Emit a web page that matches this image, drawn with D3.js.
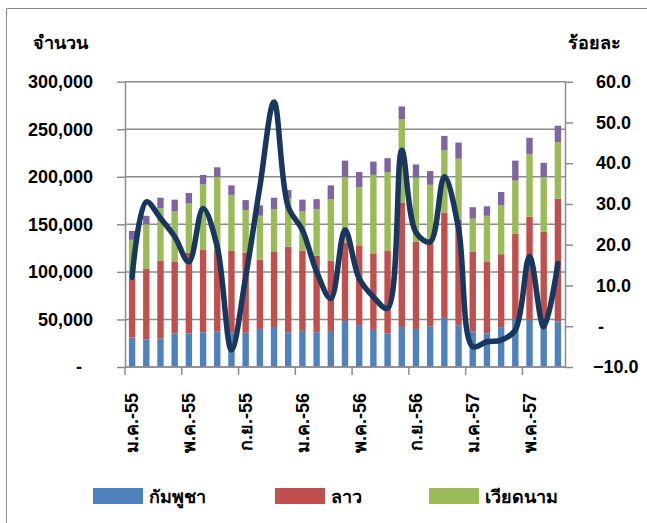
<!DOCTYPE html>
<html>
<head>
<meta charset="utf-8">
<script src="https://cdn.jsdelivr.net/npm/d3@7"></script>
<style>
  body { margin: 0; background: #fff; }
  text { font-family: "Liberation Sans", Arial, "DejaVu Sans", sans-serif; font-weight: bold; fill: #000; }
</style>
</head>
<body>
<div id="app"></div>
<script>
"use strict";

const months = [
  "ม.ค.-55", "ก.พ.-55", "มี.ค.-55", "เม.ย.-55", "พ.ค.-55", "มิ.ย.-55",
  "ก.ค.-55", "ส.ค.-55", "ก.ย.-55", "ต.ค.-55", "พ.ย.-55", "ธ.ค.-55",
  "ม.ค.-56", "ก.พ.-56", "มี.ค.-56", "เม.ย.-56", "พ.ค.-56", "มิ.ย.-56",
  "ก.ค.-56", "ส.ค.-56", "ก.ย.-56", "ต.ค.-56", "พ.ย.-56", "ธ.ค.-56",
  "ม.ค.-57", "ก.พ.-57", "มี.ค.-57", "เม.ย.-57", "พ.ค.-57", "มิ.ย.-57",
  "ก.ค.-57"
];

// people per month, by country
const cambodia = [31000, 29000, 30000, 35400, 35400, 36500, 37500, 36500, 36000, 40000, 42000, 36500,
  38000, 36500, 38000, 48400, 44000, 39000, 35400, 42000, 40000, 42800, 51600, 43900,
  37500, 35400, 42000, 50000, 49500, 40000, 48000];
const laos = [62300, 74000, 82000, 75600, 84600, 86500, 85500, 85500, 84000, 73000, 79000, 90100,
  84500, 80500, 73600, 82600, 84000, 80600, 86600, 131000, 92000, 87200, 110400, 111100,
  83500, 75600, 76600, 90000, 108500, 102000, 129000];
const vietnam = [40400, 47000, 55000, 52500, 52000, 69000, 77000, 59000, 45000, 46000, 45000, 50400,
  41000, 49000, 64900, 68600, 61000, 82400, 83000, 87700, 67000, 61600, 66000, 64000,
  35000, 48000, 51400, 56000, 66000, 57600, 59500];
const others = [9300, 9000, 11000, 12500, 11000, 10000, 10000, 10000, 10500, 11000, 12000, 9000,
  12500, 10500, 14500, 17400, 16000, 14000, 14600, 13300, 14000, 14400, 15000, 17000,
  12000, 10000, 14000, 21000, 17000, 15100, 17200];

// growth, percent
const growth = [12.0, 30.5, 26.5, 22.0, 15.8, 28.9, 19.5, -5.8, 12.1, 34.2, 55.0, 29.3,
  23.6, 13.4, 6.8, 23.6, 11.7, 7.2, 4.4, 43.2, 23.0, 20.7, 36.7, 24.0,
  -5.0, -3.8, -3.4, -0.9, 17.1, -0.1, 15.4];

const leftTicks = [0, 50000, 100000, 150000, 200000, 250000, 300000];
const rightTicks = [-10, 0, 10, 20, 30, 40, 50, 60];
const seriesKeys = ["cambodia", "laos", "vietnam", "others"];
const legendNames = ["กัมพูชา", "ลาว", "เวียดนาม"];
const colors = ["#4F81BD", "#C0504D", "#9BBB59", "#8064A2"];

class View {
  constructor() {
    this._width = 647;
    this._height = 523;
    this._left = 125;
    this._right = 565;
    this._top = 81.7;
    this._bottom = 367;

    this._svg = d3.select("#app")
      .append("svg")
      .attr("width", this._width)
      .attr("height", this._height);

    this._initScales();
    this._initFrame();
    this._initGrid();
    this._initBars();
    this._initAxes();
    this._initLine();
    this._initLegend();
  }

  _initScales() {
    this._x = d3.scaleBand()
      .domain(months)
      .range([this._left, this._right])
      .paddingInner(0.55)
      .paddingOuter(0.275);
    this._yL = d3.scaleLinear().domain([0, 300000]).range([this._bottom, this._top]);
    this._yR = d3.scaleLinear().domain([-10, 60]).range([this._bottom, this._top]);
  }

  _initFrame() {
    this._svg.append("path")
      .attr("d", "M6.5," + this._height + " V8.5 H" + this._width)
      .attr("fill", "none")
      .attr("stroke", "#8a8a8a")
      .attr("stroke-width", 1);
  }

  _initGrid() {
    this._svg.append("g")
      .selectAll("line")
      .data(leftTicks)
      .join("line")
      .attr("x1", this._left)
      .attr("x2", this._right)
      .attr("y1", d => this._yL(d))
      .attr("y2", d => this._yL(d))
      .attr("stroke", "#8c8c8c")
      .attr("stroke-width", 1.5);
  }

  _initBars() {
    const rows = months.map((m, i) => ({
      month: m,
      cambodia: cambodia[i],
      laos: laos[i],
      vietnam: vietnam[i],
      others: others[i]
    }));
    const stacked = d3.stack().keys(seriesKeys)(rows);
    this._svg.append("g")
      .selectAll("g")
      .data(stacked)
      .join("g")
      .attr("fill", (d, i) => colors[i])
      .selectAll("rect")
      .data(d => d)
      .join("rect")
      .attr("x", d => this._x(d.data.month))
      .attr("width", this._x.bandwidth())
      .attr("y", d => this._yL(d[1]))
      .attr("height", d => this._yL(d[0]) - this._yL(d[1]));
  }

  _initAxes() {
    const fmtL = d3.format(",");
    const left = this._svg.append("g")
      .attr("transform", "translate(" + this._left + ",0)")
      .call(d3.axisLeft(this._yL)
        .tickValues(leftTicks)
        .tickSize(8)
        .tickSizeOuter(0)
        .tickPadding(24)
        .tickFormat(d => d === 0 ? "-" : fmtL(d)));
    left.selectAll("text")
      .attr("font-size", 18)
      .attr("dx", d => d === 0 ? -11 : 0);

    const right = this._svg.append("g")
      .attr("transform", "translate(" + this._right + ",0)")
      .call(d3.axisRight(this._yR)
        .tickValues(rightTicks)
        .tickSize(8)
        .tickSizeOuter(0)
        .tickPadding(21)
        .tickFormat(d => d === 0 ? "-" : d3.format(".1f")(d)));
    right.selectAll("text")
      .attr("font-size", 18)
      .attr("dx", d => d === 0 ? 4 : (d < 0 ? -1 : 2));

    // category axis: ticks between months, one label every 4 months
    const gap = this._x.step() - this._x.bandwidth();
    const shown = months.filter((m, i) => i % 4 === 0);
    const bottom = this._svg.append("g");
    bottom.append("line")
      .attr("x1", this._left)
      .attr("x2", this._right)
      .attr("y1", this._bottom)
      .attr("y2", this._bottom);
    bottom.selectAll(".tk")
      .data(shown)
      .join("line")
      .attr("class", "tk")
      .attr("x1", d => this._x(d) - gap / 2)
      .attr("x2", d => this._x(d) - gap / 2)
      .attr("y1", this._bottom)
      .attr("y2", this._bottom + 8);
    bottom.selectAll("text")
      .data(shown)
      .join("text")
      .attr("transform", d => "translate(" + (this._x(d) + this._x.bandwidth() / 2) + ",393) rotate(-90)")
      .attr("text-anchor", "end")
      .attr("dy", "0.35em")
      .attr("font-size", 18)
      .text(d => d);

    this._svg.selectAll(".domain, .tick line, g line:not([stroke])")
      .attr("stroke", "#8c8c8c")
      .attr("stroke-width", 1.5);

    this._svg.append("text")
      .attr("x", 33)
      .attr("y", 49)
      .attr("font-size", 18)
      .text("จำนวน");
    this._svg.append("text")
      .attr("x", 568)
      .attr("y", 49)
      .attr("font-size", 18)
      .text("ร้อยละ");
  }

  _initLine() {
    const line = d3.line()
      .x((d, i) => this._x(months[i]) + this._x.bandwidth() / 2)
      .y(d => this._yR(d))
      .curve(d3.curveCatmullRom.alpha(0.5));
    this._svg.append("path")
      .datum(growth)
      .attr("d", line)
      .attr("fill", "none")
      .attr("stroke", "#17375E")
      .attr("stroke-width", 5.5)
      .attr("stroke-linejoin", "round")
      .attr("stroke-linecap", "round");
  }

  _initLegend() {
    const xs = [93, 275, 429];
    const g = this._svg.append("g")
      .selectAll("g")
      .data(legendNames)
      .join("g")
      .attr("transform", (d, i) => "translate(" + xs[i] + ",488)");
    g.append("rect")
      .attr("width", 50)
      .attr("height", 16)
      .attr("fill", (d, i) => colors[i]);
    g.append("text")
      .attr("x", 56)
      .attr("y", 15)
      .attr("font-size", 18)
      .text(d => d);
  }
}

new View();
</script>
</body>
</html>
